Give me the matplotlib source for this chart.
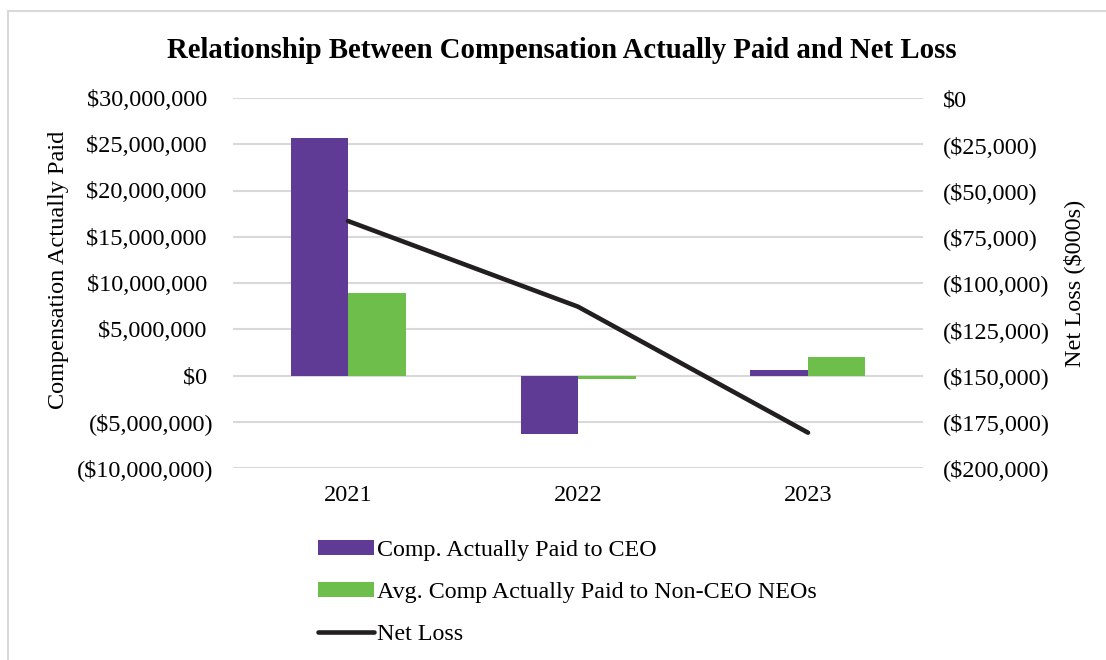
import matplotlib.pyplot as plt
from matplotlib.ticker import FuncFormatter
from matplotlib.patches import Patch
from matplotlib.lines import Line2D
import numpy as np

years = ["2021", "2022", "2023"]
ceo_cap = [25_650_000, -6_370_000, 620_000]
neo_cap = [8_960_000, -400_000, 2_030_000]
net_loss = [-66_500, -112_800, -180_900]

purple = "#5f3b95"
green = "#6dbe4b"
black = "#231f20"
grid = "#d9d9d9"

plt.rcParams["font.family"] = ["Liberation Serif", "DejaVu Serif"]
plt.rcParams["font.size"] = 17.5

fig = plt.figure(figsize=(11.06, 6.6), dpi=100)
ax = fig.add_axes([233 / 1106, 1 - 468 / 660, 690 / 1106, 370 / 660])
ax2 = ax.twinx()

x = np.arange(len(years))
w = 0.25
ax.bar(x - w / 2, ceo_cap, w, color=purple, zorder=2)
ax.bar(x + w / 2, neo_cap, w, color=green, zorder=2)
ax2.plot(x, net_loss, color=black, lw=3.3, solid_capstyle="round", zorder=3)

ax.set_xlim(-0.5, 2.5)
ax.set_ylim(-10_000_000, 30_000_000)
ax.set_yticks(np.arange(-10_000_000, 30_000_001, 5_000_000))
ax2.set_ylim(-200_000, 0)
ax2.set_yticks(np.arange(-200_000, 1, 25_000))


def money_left(v, pos):
    # accounting style: positives leave room for the closing paren
    if v < 0:
        return f"(${-v:,.0f})"
    return f"${v:,.0f} "


def money_right(v, pos):
    if v < 0:
        return f"(${-v:,.0f})"
    return f"${v:,.0f}"


ax.yaxis.set_major_formatter(FuncFormatter(money_left))
ax2.yaxis.set_major_formatter(FuncFormatter(money_right))
ax.set_xticks(x)
ax.set_xticklabels(years)

ax.grid(axis="y", color=grid, lw=1.5, zorder=0)
ax.set_axisbelow(True)
for a in (ax, ax2):
    for s in a.spines.values():
        s.set_visible(False)
    a.tick_params(length=0)
ax.tick_params(axis="y", pad=14.4)
ax.tick_params(axis="x", pad=12)
ax2.tick_params(axis="y", pad=14.4)

ax.set_ylabel("Compensation Actually Paid")
ax.yaxis.set_label_coords(-0.237, 0.535)
ax2.set_ylabel("Net Loss ($000s)")
ax2.yaxis.set_label_coords(1.2029, 0.5)

fig.text(562 / 1106, 1 - 51 / 660, "Relationship Between Compensation Actually Paid and Net Loss",
         ha="center", va="center", fontsize=20.7, fontweight="bold")

handles = [
    Patch(facecolor=purple),
    Patch(facecolor=green),
    Line2D([], [], color=black, lw=3.3, solid_capstyle="round"),
]
labels = ["Comp. Actually Paid to CEO", "Avg. Comp Actually Paid to Non-CEO NEOs", "Net Loss"]
fig.legend(handles, labels, loc="upper left", bbox_to_anchor=(318 / 1106, 1 - 540 / 660),
           frameon=False, borderpad=0, borderaxespad=0, handlelength=2.35,
           handleheight=0.55, handletextpad=0.1, labelspacing=0.88,
           prop={"size": 17.3})

# chart frame (only left and top edges visible in the crop)
fig.add_artist(Line2D([8 / 1106, 8 / 1106], [0, 1 - 11 / 660], color=grid, lw=1.5))
fig.add_artist(Line2D([8 / 1106, 1], [1 - 11 / 660, 1 - 11 / 660], color=grid, lw=1.5))

fig.savefig("out.png", dpi=100)
